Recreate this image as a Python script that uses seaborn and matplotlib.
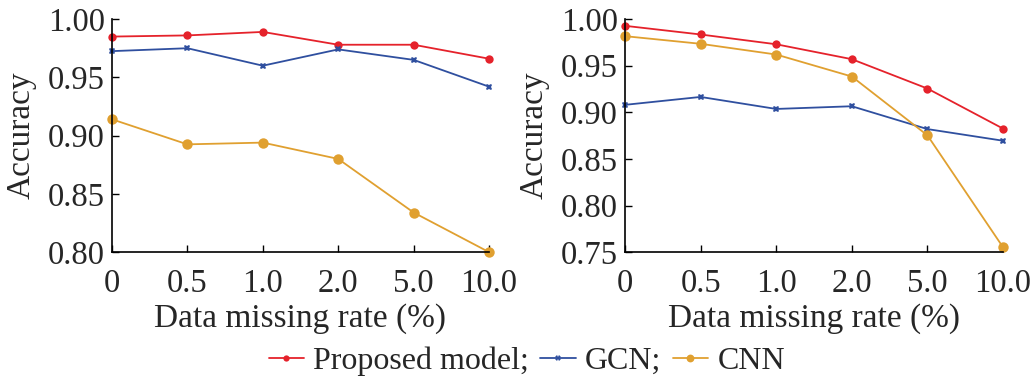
import pandas as pd
import seaborn as sns
import matplotlib.pyplot as plt

# Data
rates = ['0', '0.5', '1.0', '2.0', '5.0', '10.0']
series = ['Proposed model;', 'GCN;', 'CNN']

left_proposed = [0.985, 0.986, 0.989, 0.978, 0.978, 0.966]
left_gcn = [0.9725, 0.975, 0.960, 0.974, 0.965, 0.942]
left_cnn = [0.914, 0.8925, 0.894, 0.880, 0.834, 0.800]

right_proposed = [0.9928, 0.9835, 0.973, 0.957, 0.9255, 0.8825]
right_gcn = [0.908, 0.9165, 0.9036, 0.9065, 0.882, 0.8695]
right_cnn = [0.9817, 0.9735, 0.962, 0.9384, 0.8753, 0.7552]

colors = {'Proposed model;': '#e5222b', 'GCN;': '#2f4f9f', 'CNN': '#e0a030'}
markers = {'Proposed model;': 'o', 'GCN;': 'X', 'CNN': 'o'}
msizes = {'Proposed model;': 6, 'GCN;': 5, 'CNN': 7.5}


def make_df(p, g, c):
    rows = []
    for name, vals in zip(series, [p, g, c]):
        for i, v in enumerate(vals):
            rows.append({'pos': i, 'acc': v, 'model': name})
    return pd.DataFrame(rows)


sns.set_theme(style='ticks')
plt.rcParams['font.family'] = ['Liberation Serif', 'DejaVu Serif']
plt.rcParams['xtick.direction'] = 'in'
plt.rcParams['ytick.direction'] = 'in'

fig = plt.figure(figsize=(10.33, 3.82), dpi=100)
ax1 = fig.add_axes([0.1084, 0.340, 0.365, 0.610])
ax2 = fig.add_axes([0.605, 0.340, 0.366, 0.610])

panels = [
    (ax1, make_df(left_proposed, left_gcn, left_cnn), (0.80, 1.00), [0.80, 0.85, 0.90, 0.95, 1.00]),
    (ax2, make_df(right_proposed, right_gcn, right_cnn), (0.75, 1.00), [0.75, 0.80, 0.85, 0.90, 0.95, 1.00]),
]

for ax, df, ylim, yticks in panels:
    for name in series:
        sub = df[df['model'] == name]
        sns.lineplot(data=sub, x='pos', y='acc', ax=ax, color=colors[name],
                     marker=markers[name], markersize=msizes[name],
                     markeredgewidth=0, linewidth=1.3, label=name,
                     clip_on=False, legend=False)
    ax.set_xlim(0, 5)
    ax.set_ylim(*ylim)
    ax.set_xticks(range(len(rates)))
    ax.set_xticklabels(rates)
    ax.set_yticks(yticks)
    ax.set_yticklabels([f'{t:.2f}' for t in yticks])
    ax.tick_params(labelsize=23.5, length=5, width=1, color='black')
    ax.tick_params(axis='x', pad=11.5)
    ax.tick_params(axis='y', pad=5)
    ax.set_xlabel('Data missing rate (%)', fontsize=24, labelpad=3)
    ax.set_ylabel('Accuracy', fontsize=24, labelpad=8)
    sns.despine(ax=ax)
    for s in ['left', 'bottom']:
        ax.spines[s].set_color('black')
        ax.spines[s].set_linewidth(1.2)

handles, labels = ax1.get_legend_handles_labels()
fig.legend(handles, labels, loc='center', bbox_to_anchor=(0.51, 0.055), ncol=3,
           frameon=False, fontsize=23, handlelength=1.1, handletextpad=0.3,
           columnspacing=0.35, borderaxespad=0, markerscale=0.75)

fig.savefig('out.png', dpi=100)
